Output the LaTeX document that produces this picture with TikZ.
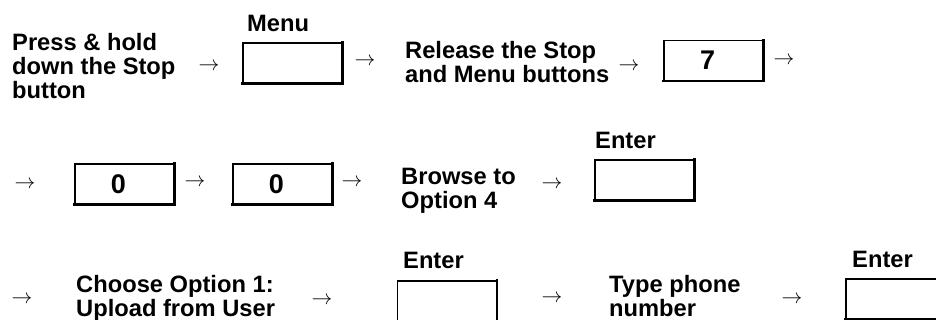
\documentclass[tikz,border=0pt]{standalone}
\usepackage{fontspec}
\setmainfont{Liberation Sans}
\usetikzlibrary{positioning}

\begin{document}
\begin{tikzpicture}[
  x=1pt, y=-1pt,
  keybox/.style={draw, line width=1.2pt, minimum width=99pt, minimum height=40pt, inner sep=0pt},
  keyshade/.style={line width=2.6pt, line cap=rect},
  caption/.style={anchor=base west, inner sep=0pt, font=\fontsize{23.7}{24}\selectfont\bfseries},
  digit/.style={inner sep=0pt, font=\fontsize{27}{28}\selectfont\bfseries},
  instr/.style={anchor=north west, align=left, inner sep=0pt, font=\fontsize{23.7}{24}\selectfont\bfseries},
  flow/.style={inner sep=0pt, font=\fontsize{21.5}{24}\selectfont}
]
\useasboundingbox (0,0) rectangle (936,320);
\clip (0,0) rectangle (936,320);

% first row
\node[instr] (press) at (12,33) {Press \& hold\\down the Stop\\button};
\node[flow] (a1) at (209,67) {$\rightarrow$};
\node[keybox] (menu) at (292.5,63) {};
\node[caption] (menucap) at (247,32) {Menu};
\node[flow] (a2) at (365,62) {$\rightarrow$};
\node[instr] (release) at (405,41) {Release the Stop\\and Menu buttons};
\node[flow] (a3) at (629,67) {$\rightarrow$};
\node[keybox] (seven) at (713.5,60.5) {};
\node[digit] (sevenlbl) at ([xshift=-6pt]seven.center) {7};
\node[flow] (a4) at (784,61) {$\rightarrow$};

% second row
\node[flow] (a5) at (25,185) {$\rightarrow$};
\node[keybox] (zeroa) at (124.5,184) {};
\node[digit] (zeroalbl) at ([xshift=-6pt]zeroa.center) {0};
\node[flow] (a6) at (195,183) {$\rightarrow$};
\node[keybox] (zerob) at (282.5,184) {};
\node[digit] (zeroblbl) at ([xshift=-6pt]zerob.center) {0};
\node[flow] (a7) at (352,183) {$\rightarrow$};
\node[instr] (browse) at (401,168) {Browse to\\Option 4};
\node[flow] (a8) at (552,185) {$\rightarrow$};
\node[keybox] (entera) at (644.5,180) {};
\node[caption] (enteracap) at (595,149) {Enter};

% third row
\node[flow] (a9) at (22,300) {$\rightarrow$};
\node[instr] (choose) at (76,275) {Choose Option 1:\\Upload from User};
\node[flow] (a10) at (322,301) {$\rightarrow$};
\node[keybox] (enterb) at (447,301) {};
\node[caption] (enterbcap) at (403,268) {Enter};
\node[flow] (a11) at (552,299) {$\rightarrow$};
\node[instr] (phone) at (609,275) {Type phone\\number};
\node[flow] (a12) at (792,300) {$\rightarrow$};
\node[keybox] (enterc) at (895.5,299) {};
\node[caption] (entercap) at (852,267) {Enter};

% heavy bottom and right edge of every key
\foreach \k in {menu,seven,zeroa,zerob,entera,enterb,enterc}
  \draw[keyshade] (\k.south west) -- (\k.south east) -- (\k.north east);
\end{tikzpicture}
\end{document}
